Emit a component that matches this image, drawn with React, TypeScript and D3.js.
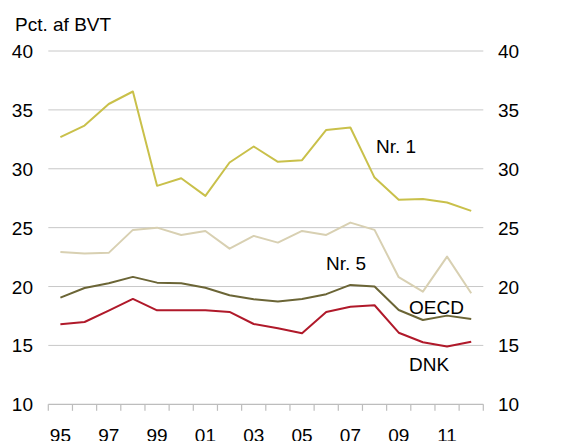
import React from "react";
import * as d3 from "d3";

const years = [1995,1996,1997,1998,1999,2000,2001,2002,2003,2004,2005,2006,2007,2008,2009,2010,2011,2012];
const nr1 = [32.69,33.67,35.5,36.56,28.55,29.2,27.7,30.53,31.89,30.59,30.73,33.3,33.5,29.25,27.36,27.44,27.13,26.42];
const nr5 = [22.94,22.8,22.86,24.81,25.0,24.38,24.72,23.22,24.3,23.73,24.72,24.38,25.43,24.81,20.79,19.57,22.54,19.43];
const oecd = [19.06,19.88,20.28,20.82,20.33,20.28,19.9,19.26,18.92,18.72,18.95,19.35,20.14,20.0,18.01,17.16,17.53,17.25];
const dnk = [16.8,16.99,17.95,18.95,17.98,17.98,17.98,17.84,16.82,16.46,16.03,17.84,18.29,18.41,16.08,15.27,14.9,15.32];
const yTicks = [10,15,20,25,30,35,40];
const xLabelYears = [1995,1997,1999,2001,2003,2005,2007,2009,2011];

const series = [
  { name: "Nr. 1", values: nr1, color: "#c9c04a", lx: 376, lv: 31.37 },
  { name: "Nr. 5", values: nr5, color: "#d8d0b2", lx: 326, lv: 21.4 },
  { name: "OECD", values: oecd, color: "#6b6536", lx: 409, lv: 17.7 },
  { name: "DNK", values: dnk, color: "#b0192a", lx: 409, lv: 12.8 },
];

export default function App() {
  const W = 574, H = 441;
  const left = 48.3, right = 483.3, top = 51, bottom = 404.3;
  const x = d3.scaleBand<number>().domain(years).range([left, right]);
  const y = d3.scaleLinear().domain([10, 40]).range([bottom, top]);
  const line = d3.line<number>()
    .x((_, i) => (x(years[i]) as number) + x.bandwidth() / 2)
    .y((d) => y(d));
  const font = "Arial, 'Liberation Sans', sans-serif";
  const tickXs = years.map((yr) => x(yr) as number).concat([right]);
  return (
    <svg width={W} height={H} style={{ position: "absolute", left: 0, top: 0 }} fontFamily={font}>
      <rect width={W} height={H} fill="#fff" />
      <text x={15} y={31} fontSize={19} fill="#000">Pct. af BVT</text>
      {yTicks.map((t) => (
        <g key={t}>
          {t > 10 && <line x1={left} x2={right} y1={y(t)} y2={y(t)} stroke="#c8c8c8" strokeWidth={1} />}
          <text x={33} y={y(t) + 7} textAnchor="end" fontSize={19} fill="#000">{t}</text>
          <text x={498} y={y(t) + 7} textAnchor="start" fontSize={19} fill="#000">{t}</text>
        </g>
      ))}
      <line x1={left} x2={right} y1={bottom} y2={bottom} stroke="#bdbdbd" strokeWidth={1.2} />
      {tickXs.map((tx, i) => (
        <line key={i} x1={tx} x2={tx} y1={bottom} y2={bottom + 6.5} stroke="#bdbdbd" strokeWidth={1.2} />
      ))}
      {xLabelYears.map((yr) => (
        <text key={yr} x={(x(yr) as number) + x.bandwidth() / 2} y={442} textAnchor="middle" fontSize={19} fill="#000">
          {String(yr).slice(2)}
        </text>
      ))}
      {series.map((s) => (
        <path key={s.name} d={line(s.values) || ""} fill="none" stroke={s.color} strokeWidth={2} strokeLinejoin="round" />
      ))}
      {series.map((s) => (
        <text key={s.name + "l"} x={s.lx} y={y(s.lv)} fontSize={19} fill="#000">{s.name}</text>
      ))}
    </svg>
  );
}
